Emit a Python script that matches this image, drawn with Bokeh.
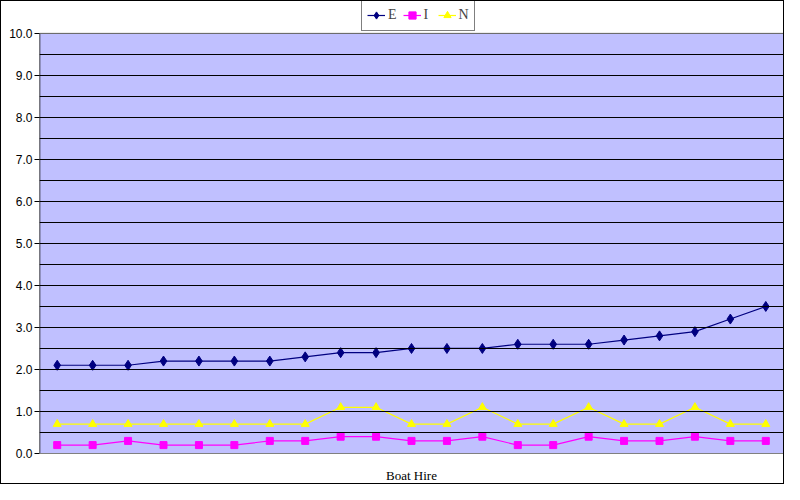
from bokeh.plotting import figure
from bokeh.models import Legend, LegendItem, SingleIntervalTicker, FixedTicker, PrintfTickFormatter, Span
from bokeh.embed import file_html
from bokeh.resources import INLINE

category = "Boat Hire"
series_names = ["E", "I", "N"]
E = [2.1, 2.1, 2.1, 2.2, 2.2, 2.2, 2.2, 2.3, 2.4, 2.4, 2.5, 2.5, 2.5, 2.6, 2.6, 2.6, 2.7, 2.8, 2.9, 3.2, 3.5]
I = [0.2, 0.2, 0.3, 0.2, 0.2, 0.2, 0.3, 0.3, 0.4, 0.4, 0.3, 0.3, 0.4, 0.2, 0.2, 0.4, 0.3, 0.3, 0.4, 0.3, 0.3]
N = [0.7, 0.7, 0.7, 0.7, 0.7, 0.7, 0.7, 0.7, 1.1, 1.1, 0.7, 0.7, 1.1, 0.7, 0.7, 1.1, 0.7, 0.7, 1.1, 0.7, 0.7]

n = len(E)
x = [i + 0.5 for i in range(n)]
y_max = 10.0
# extra headroom above the value axis (white strip holding the legend)
y_top = y_max + 32 / 42.2

p = figure(width=784, height=484, output_backend="svg", toolbar_location=None,
           x_range=(0, n), y_range=(0, y_top),
           min_border_left=38, min_border_right=2, min_border_bottom=30, min_border_top=0,
           styles={"border": "1px solid black", "box-sizing": "border-box"})
p.background_fill_color = "white"
p.border_fill_color = "white"
p.outline_line_color = None

# periwinkle plot area (value range only; the strip above it stays white)
p.quad(left=[0], right=[n], bottom=[0], top=[y_max], fill_color="#C0C0FF", line_color=None, level="underlay")

# y axis
p.yaxis.ticker = SingleIntervalTicker(interval=1, num_minor_ticks=2)
p.yaxis.bounds = (0, y_max)
p.yaxis.formatter = PrintfTickFormatter(format="%.1f")
p.yaxis.axis_line_color = None
p.yaxis.major_tick_line_color = "black"
p.yaxis.major_tick_out = 5
p.yaxis.major_tick_in = 0
p.yaxis.minor_tick_line_color = None
p.yaxis.major_label_text_font = "Liberation Sans"
p.yaxis.major_label_text_font_size = "12px"
p.yaxis.major_label_text_color = "black"
p.yaxis.major_label_standoff = 2

p.ygrid.grid_line_color = "black"
p.ygrid.minor_grid_line_color = "black"
p.ygrid.level = "glyph"
p.xgrid.visible = False

# plot-area border: value axis line (left), top and right edges
p.segment(x0=[0], y0=[0], x1=[0], y1=[y_max], line_color="black", line_width=1.5)
p.add_layout(Span(location=y_max, dimension="width", line_color="#808080", line_width=1))
p.add_layout(Span(location=n, dimension="height", line_color="#808080", line_width=1))

# x axis
p.xaxis.ticker = FixedTicker(ticks=[n / 2])
p.xaxis.major_label_overrides = {n / 2: category}
p.xaxis.axis_line_color = "#808080"
p.xaxis.major_tick_line_color = None
p.xaxis.minor_tick_line_color = None
p.xaxis.major_label_text_font = "Liberation Serif"
p.xaxis.major_label_text_font_size = "13px"
p.xaxis.major_label_text_color = "black"
p.xaxis.major_label_standoff = 8

colors = ["#000080", "#FF00FF", "#FFFF00"]
markers = ["diamond", "square", "triangle"]
sizes = [10, 7, 8]
items = []
for name, ys, c, m, s in zip(series_names, [E, I, N], colors, markers, sizes):
    l = p.line(x, ys, line_color=c, line_width=1.2)
    sc = p.scatter(x, ys, marker=m, size=s, fill_color=c, line_color=c)
    items.append(LegendItem(label=name, renderers=[l, sc]))

legend = Legend(items=items, orientation="horizontal", location=(322, 422))
legend.border_line_color = "black"
legend.border_line_width = 1
legend.background_fill_color = "white"
legend.background_fill_alpha = 1
legend.label_text_font = "Liberation Serif"
legend.label_text_font_size = "14px"
legend.label_standoff = 3
legend.glyph_width = 18
legend.glyph_height = 20
legend.label_height = 20
legend.label_width = 8
legend.spacing = 6
legend.padding = 5
legend.margin = 0
p.add_layout(legend, "center")

open("out.html", "w").write(file_html(p, INLINE))
